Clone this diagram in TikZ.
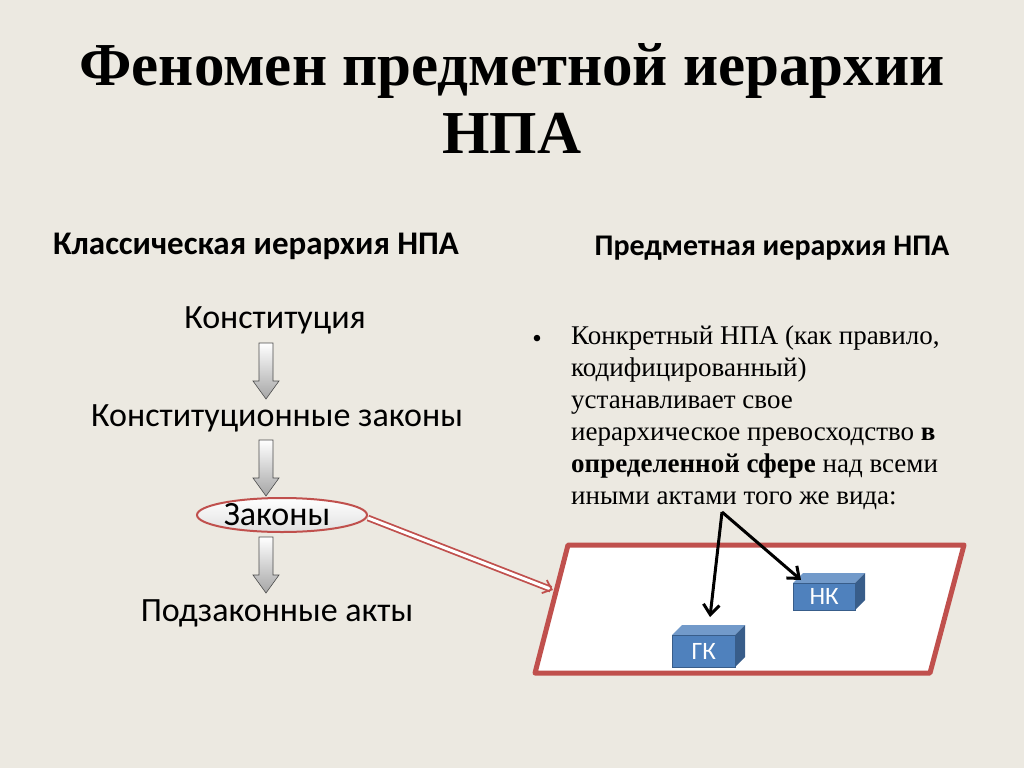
\documentclass[tikz,border=0pt]{standalone}
\usepackage{fontspec}
\setmainfont{Carlito}
\newfontfamily\serifb{Liberation Serif}
\usetikzlibrary{arrows.meta,shapes.geometric}
\definecolor{bg}{RGB}{236,233,225}
\definecolor{redb}{RGB}{192,80,77}
\definecolor{boxb}{RGB}{79,129,189}
\definecolor{boxd}{RGB}{56,93,138}
\tikzset{
  lbl/.style={font=\fontsize{34}{36}\selectfont, inner sep=0pt},
  blockarrow/.style={draw=black!70, line width=0.6pt, top color=white, bottom color=black!35}
}
\newcommand{\blockarr}[2]{% x, ytop
  \path[blockarrow] (#1-7,#2) -- (#1+7,#2) -- (#1+7,#2+38) -- (#1+13,#2+38) -- (#1,#2+56) -- (#1-13,#2+38) -- (#1-7,#2+38) -- cycle;}
\newcommand{\cubeat}[5]{% name, x1,y1,x2,y2 front face
  \fill[boxb!80!white] (#2,#3) -- (#2+10,#3-10) -- (#4+10,#3-10) -- (#4,#3) -- cycle;
  \fill[boxd] (#4,#3) -- (#4+10,#3-10) -- (#4+10,#5-10) -- (#4,#5) -- cycle;
  \node[draw=boxd, fill=boxb, minimum width=#4-#2, minimum height=#5-#3, anchor=north west, inner sep=0pt] (#1) at (#2,#3) {};
}
\begin{document}
\begin{tikzpicture}[x=1pt,y=-1pt]
\fill[bg] (0,0) rectangle (1024,768);
\useasboundingbox (0,0) rectangle (1024,768);
\node[font=\serifb\bfseries\fontsize{61}{68}\selectfont, align=center] (title) at (512,99) {Феномен предметной иерархии\\НПА};
\node[font=\bfseries\fontsize{33}{35}\selectfont] (h1) at (256,246) {Классическая иерархия НПА};
\node[font=\bfseries\fontsize{30}{32}\selectfont] (h2) at (772,248) {Предметная иерархия НПА};
\node[lbl] (k1) at (275,320) {Конституция};
\node[lbl] (k2) at (277,418) {Конституционные законы};
\node[draw=redb, line width=2pt, ellipse, minimum width=170, minimum height=34, inner sep=0pt, top color=white, bottom color=black!12] (ell) at (282,515) {};
\node[lbl] (k3) at (277,515) {Законы};
\node[lbl] (k4) at (277,613) {Подзаконные акты};
\blockarr{266}{343}
\blockarr{266}{440}
\blockarr{266}{537}
\node[font=\serifb\fontsize{27}{32}\selectfont] (bul) at (537,341) {•};
\node[font=\serifb\fontsize{27}{32}\selectfont, align=left, anchor=north west, inner sep=0pt] (txt) at (571,326) {Конкретный НПА (как правило,\\кодифицированный)\\устанавливает свое\\иерархическое превосходство \textbf{в}\\\textbf{определенной сфере} над всеми\\иными актами того же вида:};
\draw[redb, line width=5pt, fill=white, line join=round] (568,545) -- (964,545) -- (930,673) -- (535,673) -- cycle;
\coordinate (pl) at (553,590);
\draw[redb, double=white, double distance=3pt, line width=1.8pt, -{Straight Barb[length=8pt,width=14pt]}] (ell.east) ++(0,3) -- (pl);
\cubeat{nk}{793}{583}{855}{610}
\cubeat{gk}{672}{635}{735}{667}
\node[text=white, font=\fontsize{25}{26}\selectfont] at (nk) {НК};
\node[text=white, font=\fontsize{25}{26}\selectfont] at (gk) {ГК};
\coordinate (src) at (722,512);
\draw[line width=3pt, -{Straight Barb[length=10pt,width=16pt]}] (src) -- (710,617);
\draw[line width=3pt, -{Straight Barb[length=10pt,width=16pt]}] (src) -- (801,580);
\end{tikzpicture}
\end{document}
